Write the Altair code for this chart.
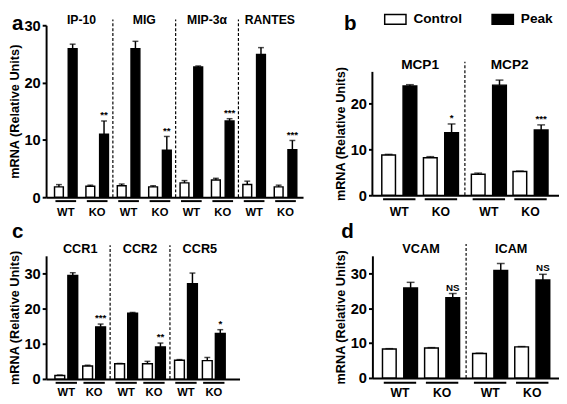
import altair as alt
import pandas as pd

FONT = "Liberation Sans"
YTITLE = "mRNA (Relative Units)"
CONDS = ["Control", "Peak"]
GENOS = ["WT", "KO"]

# ---- data (order per group: WT Control, WT Peak, KO Control, KO Peak) ----
a_groups = ["IP-10", "MIG", "MIP-3α", "RANTES"]
a_means = [[1.8, 25.9, 1.9, 11.0], [2.0, 25.9, 1.8, 8.2], [2.5, 22.7, 3.0, 13.3], [2.2, 24.9, 1.8, 8.3]]
a_errs = [[0.4, 0.8, 0.2, 2.3], [0.3, 1.3, 0.2, 2.4], [0.4, 0.2, 0.3, 0.4], [0.6, 1.2, 0.3, 1.6]]
a_sig = ["**", "**", "***", "***"]

b_groups = ["MCP1", "MCP2"]
b_means = [[8.8, 23.9, 8.2, 13.7], [4.6, 24.1, 5.2, 14.3]]
b_errs = [[0.15, 0.3, 0.25, 1.9], [0.25, 1.1, 0.1, 1.1]]
b_sig = ["*", "***"]

c_groups = ["CCR1", "CCR2", "CCR5"]
c_means = [[1.0, 29.4, 3.7, 14.8], [4.3, 18.7, 4.3, 9.1], [5.3, 27.1, 5.2, 12.9]]
c_errs = [[0.1, 0.8, 0.2, 0.8], [0.1, 0.2, 0.7, 1.1], [0.2, 3.0, 0.9, 1.1]]
c_sig = ["***", "**", "*"]

d_groups = ["VCAM", "ICAM"]
d_means = [[8.3, 25.8, 8.6, 23.0], [7.0, 30.8, 8.9, 28.1]]
d_errs = [[0.1, 1.6, 0.1, 1.2], [0.1, 2.0, 0.1, 1.6]]
d_sig = ["NS", "NS"]

fill_scale = alt.Scale(domain=CONDS, range=["white", "black"])


def panel(letter, groups, means, errs, sig, cfg):
    W, H = cfg["w"], cfg["h"]
    step, first = cfg["step"], cfg["first"]
    xdom = [-first / step, (W - first) / step]
    rows = []
    for g, grp in enumerate(groups):
        for k, geno in enumerate(GENOS):
            pair = 2 * g + k + cfg["gap"] * g
            for c, cond in enumerate(CONDS):
                i = 2 * k + c
                m = means[g][i]
                e = errs[g][i]
                rows.append(dict(group=grp, geno=geno, cond=cond, pair=pair,
                                 pos=pair + (c - 0.5) * 2 * cfg["off"] / step,
                                 mean=m, hi=m + e,
                                 sig=sig[g] if (k == 1 and c == 1) else ""))
    df = pd.DataFrame(rows)
    pairs = df.drop_duplicates("pair")[["group", "pair", "geno"]].copy()
    pairs["lo"] = pairs["pair"] - cfg["ul"] / step
    pairs["up"] = pairs["pair"] + cfg["ul"] / step
    gdf = pairs.groupby("group", sort=False)["pair"].mean().reset_index()
    gdf.columns = ["group", "center"]
    pl = list(pairs["pair"])
    seps = pd.DataFrame({"sep": [(pl[2 * g + 1] + pl[2 * g + 2]) / 2 for g in range(len(groups) - 1)]})
    seps["y0"] = 0
    seps["y1"] = cfg["dash_top"]

    xs = alt.Scale(domain=xdom, nice=False, zero=False)
    xaxis = alt.Axis(labels=False, ticks=False, title=None, grid=False, domain=True,
                     domainWidth=2, domainColor="black")
    ys = alt.Scale(domain=[0, cfg["ymax"]], nice=False, zero=True)
    yargs = dict(values=cfg["yticks"], grid=False, domain=cfg["ydomain"], domainWidth=2,
                 domainColor="black", tickSize=4, tickWidth=2, tickColor="black",
                 labelFont=FONT, labelFontSize=15, labelFontWeight="bold", labelColor="black",
                 labelPadding=2, title=YTITLE, titleFont=FONT, titleFontSize=13,
                 titleFontWeight="bold", titleColor="black", titlePadding=3)
    if "titleY" in cfg:
        yargs["titleY"] = cfg["titleY"]
    yaxis = alt.Axis(**yargs)

    def X(f):
        return alt.X(f"{f}:Q", scale=xs, axis=xaxis)

    def Y(f):
        return alt.Y(f"{f}:Q", scale=ys, axis=yaxis, stack=None, title=YTITLE)

    bars = alt.Chart(df).mark_bar(size=cfg["bw"], stroke="black", strokeWidth=1.5,
                                  orient="vertical").encode(
        x=X("pos"), y=Y("mean"),
        fill=alt.Fill("cond:N", scale=fill_scale, legend=None))
    err = alt.Chart(df).mark_rule(color="black", strokeWidth=1.5).encode(
        x=X("pos"), y=Y("mean"), y2=alt.Y2("hi:Q"))
    caps = alt.Chart(df).mark_tick(orient="horizontal", size=cfg["cap"], thickness=1.5,
                                   color="black").encode(x=X("pos"), y=Y("hi"))
    stars = alt.Chart(df[df["sig"] != ""]).mark_text(
        font=FONT, fontSize=10, fontWeight="bold", baseline="alphabetic", dy=-3,
        color="black").encode(x=X("pos"), y=Y("hi"), text="sig:N")
    dashes = alt.Chart(seps).mark_rule(color="black", strokeWidth=1.2,
                                       strokeDash=[3, 2]).encode(
        x=X("sep"), y=Y("y0"), y2=alt.Y2("y1:Q"))
    ulines = alt.Chart(pairs).mark_rule(color="black", strokeWidth=2).encode(
        x=X("lo"), x2=alt.X2("up:Q"), y=alt.value(H + cfg["ul_dy"]))
    glab = alt.Chart(pairs).mark_text(font=FONT, fontSize=cfg["lab_fs"], fontWeight="bold",
                                      baseline="middle", color="black").encode(
        x=X("pair"), y=alt.value(H + cfg["lab_dy"]), text="geno:N")
    gtit = alt.Chart(gdf).mark_text(font=FONT, fontSize=cfg["tit_fs"], fontWeight="bold",
                                    baseline="middle", color="black").encode(
        x=X("center"), y=alt.value(cfg["tit_y"]), text="group:N")
    let = alt.Chart(pd.DataFrame({"t": [letter]})).mark_text(
        font=FONT, fontSize=21, fontWeight="bold", align="left", baseline="alphabetic",
        color="black").encode(x=alt.value(cfg["lx"]), y=alt.value(cfg["ly"]), text="t:N")
    layers = [dashes, bars, err, caps, stars, ulines, glab, gtit, let]

    if not cfg["ydomain"]:
        axl = pd.DataFrame({"y0": [0], "y1": [cfg["axis_top"]]})
        layers.append(alt.Chart(axl).mark_rule(color="black", strokeWidth=2).encode(
            x=alt.value(0), y=Y("y0"), y2=alt.Y2("y1:Q")))
    if "legend" in cfg:
        leg = pd.DataFrame({"cond": CONDS, "bx": cfg["legend"]})
        leg["x0"] = (leg["bx"] - first) / step
        leg["x1"] = (leg["bx"] + 23 - first) / step
        leg["tx"] = (leg["bx"] + 31 - first) / step
        layers.append(alt.Chart(leg).mark_rect(stroke="black", strokeWidth=1.5).encode(
            x=X("x0"), x2=alt.X2("x1:Q"), y=alt.value(-11), y2=alt.value(-1),
            fill=alt.Fill("cond:N", scale=fill_scale, legend=None)))
        layers.append(alt.Chart(leg).mark_text(font=FONT, fontSize=14, fontWeight="bold",
                                               align="left", baseline="middle",
                                               color="black").encode(
            x=X("tx"), y=alt.value(-6), text="cond:N"))
    return alt.layer(*layers).properties(width=W, height=H)


pa = panel("a", a_groups, a_means, a_errs, a_sig, dict(
    w=263, h=176, step=33.4, first=15.75, gap=0.0, off=7.3, bw=9, cap=6, ul=11,
    ymax=30, yticks=[0, 10, 20, 30], ydomain=True, dash_top=31,
    ul_dy=4, lab_dy=16, lab_fs=11.5, tit_fs=12.5, tit_y=-5, lx=-35, ly=5))
pb = panel("b", b_groups, b_means, b_errs, b_sig, dict(
    w=191, h=174, step=45, first=23.75, gap=0.15, off=11.5, bw=14, cap=8, ul=17.5,
    ymax=37.2, yticks=[0, 10, 20], ydomain=False, axis_top=27, titleY=110.8,
    dash_top=29.2, ul_dy=4, lab_dy=17, lab_fs=12.5, tit_fs=14, tit_y=41,
    lx=-29, ly=5, legend=[8, 124]))
pc = panel("c", c_groups, c_means, c_errs, c_sig, dict(
    w=198, h=126, step=30, first=16.5, gap=0.15, off=7, bw=10, cap=6, ul=11.5,
    ymax=35, yticks=[0, 10, 20, 30], ydomain=True, dash_top=38,
    ul_dy=4, lab_dy=14, lab_fs=11.5, tit_fs=13, tit_y=-7, lx=-35, ly=-18))
pd_ = panel("d", d_groups, d_means, d_errs, d_sig, dict(
    w=191, h=125, step=45.5, first=24.5, gap=0.14, off=11.5, bw=14, cap=8, ul=17.5,
    ymax=35, yticks=[0, 10, 20, 30], ydomain=True, dash_top=38.4,
    ul_dy=5, lab_dy=15, lab_fs=12.5, tit_fs=13, tit_y=-7, lx=-32, ly=-18))

chart = alt.concat(pa, pb, pc, pd_, columns=2, bounds="flush",
                   spacing={"row": 60, "column": 71}).properties(
    padding=0).configure_view(stroke=None)

chart.save("out.html", embed_options={"renderer": "svg", "actions": False})
